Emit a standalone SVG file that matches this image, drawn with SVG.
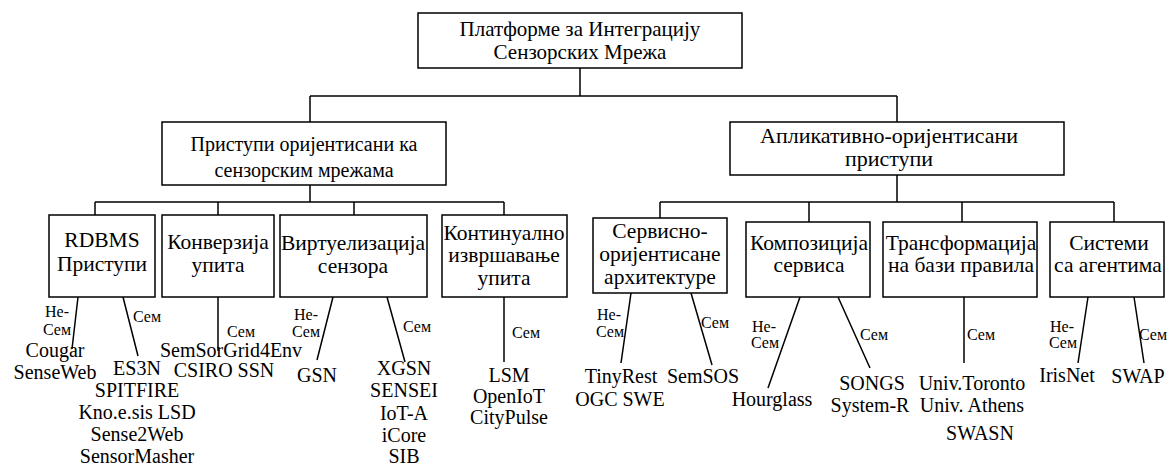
<svg xmlns="http://www.w3.org/2000/svg" width="1170" height="466" viewBox="0 0 1170 466">
  <style>
    .box { fill: #fff; stroke: #000; stroke-width: 1.5; }
    .wire { fill: none; stroke: #000; stroke-width: 1.5; }
    text { font-family: "Liberation Serif", "Times New Roman", "DejaVu Serif", serif; fill: #000; text-anchor: middle; }
    .t0 { font-size: 21px; }
    .t1 { font-size: 20px; }
    .t1b { font-size: 22px; }
    .t2 { font-size: 21.5px; }
    .leaf { font-size: 20px; }
    .lbl { font-size: 16px; text-anchor: start; }
  </style>
  <rect width="1170" height="466" fill="#fff"/>

  <!-- connectors -->
  <g id="connectors">
    <!-- root to second level -->
    <path class="wire" d="M580 68 V96 M310 96 H897 M310 96 V122 M897 96 V122"/>
    <!-- left branch to third level -->
    <path class="wire" d="M310 185 V202 M95 202 H504 M95 202 V215 M218 202 V215 M354 202 V215 M504 202 V215"/>
    <!-- right branch to third level -->
    <path class="wire" d="M897 175 V202 M660 202 H1114 M660 202 V218 M809 202 V222 M962 202 V222 M1114 202 V222"/>
    <!-- leaf lines -->
    <path class="wire" d="M78 297 L72 349 M123 297 L138 356"/>
    <path class="wire" d="M218 297 V351"/>
    <path class="wire" d="M333 297 L317 360 M387 297 L405 362"/>
    <path class="wire" d="M504 297 V362"/>
    <path class="wire" d="M631 293 L621 363 M691 293 L712 365"/>
    <path class="wire" d="M800 297 L768 388 M838 297 L870 368"/>
    <path class="wire" d="M964 297 V363"/>
    <path class="wire" d="M1088 297 L1078 363 M1134 297 L1144 363"/>
    <!-- branch labels -->
    <text class="lbl" x="45" y="317">Не-</text>
    <text class="lbl" x="43" y="335">Сем</text>
    <text class="lbl" x="133" y="322">Сем</text>
    <text class="lbl" x="227" y="337">Сем</text>
    <text class="lbl" x="294" y="320">Не-</text>
    <text class="lbl" x="292" y="337">Сем</text>
    <text class="lbl" x="403" y="332">Сем</text>
    <text class="lbl" x="512" y="338">Сем</text>
    <text class="lbl" x="597" y="320">Не-</text>
    <text class="lbl" x="596" y="337">Сем</text>
    <text class="lbl" x="701" y="328">Сем</text>
    <text class="lbl" x="752" y="332">Не-</text>
    <text class="lbl" x="751" y="348">Сем</text>
    <text class="lbl" x="860" y="340">Сем</text>
    <text class="lbl" x="967" y="340">Сем</text>
    <text class="lbl" x="1050" y="332">Не-</text>
    <text class="lbl" x="1049" y="348">Сем</text>
    <text class="lbl" x="1139" y="340">Сем</text>
  </g>

  <!-- root -->
  <g id="root">
    <rect class="box" x="418" y="13" width="324" height="55"/>
    <text class="t0" x="580" y="36">Платформе за Интеграцију</text>
    <text class="t0" x="580" y="59">Сензорских Мрежа</text>
  </g>

  <!-- second level -->
  <g id="sensor-approaches">
    <rect class="box" x="162" y="122" width="284" height="63"/>
    <text class="t1" x="304" y="151">Приступи оријентисани ка</text>
    <text class="t1" x="304" y="177">сензорским мрежама</text>
  </g>
  <g id="app-approaches">
    <rect class="box" x="730" y="122" width="334" height="53"/>
    <text class="t1b" x="889" y="143">Апликативно-оријентисани</text>
    <text class="t1b" x="889" y="166">приступи</text>
  </g>

  <!-- third level, sensor side -->
  <g id="rdbms">
    <rect class="box" x="49" y="215" width="106" height="82"/>
    <text class="t2" x="102" y="247">RDBMS</text>
    <text class="t2" x="102" y="271">Приступи</text>
  </g>
  <g id="query-conversion">
    <rect class="box" x="162" y="215" width="112" height="82"/>
    <text class="t2" x="218" y="249">Конверзија</text>
    <text class="t2" x="218" y="272">упита</text>
  </g>
  <g id="virtualization">
    <rect class="box" x="280" y="215" width="147" height="82"/>
    <text class="t2" x="353" y="250">Виртуелизација</text>
    <text class="t2" x="353" y="273">сензора</text>
  </g>
  <g id="continuous-query">
    <rect class="box" x="442" y="215" width="125" height="82"/>
    <text class="t2" x="504" y="240">Континуално</text>
    <text class="t2" x="504" y="262">извршавање</text>
    <text class="t2" x="504" y="285">упита</text>
  </g>

  <!-- third level, application side -->
  <g id="soa">
    <rect class="box" x="593" y="218" width="134" height="75"/>
    <text class="t2" x="660" y="238">Сервисно-</text>
    <text class="t2" x="660" y="261">оријентисане</text>
    <text class="t2" x="660" y="284">архитектуре</text>
  </g>
  <g id="service-composition">
    <rect class="box" x="746" y="222" width="124" height="75"/>
    <text class="t2" x="809" y="250">Композиција</text>
    <text class="t2" x="809" y="272">сервиса</text>
  </g>
  <g id="rule-transformation">
    <rect class="box" x="883" y="222" width="154" height="75"/>
    <text class="t2" x="961" y="250">Трансформација</text>
    <text class="t2" x="961" y="272">на бази правила</text>
  </g>
  <g id="agent-systems">
    <rect class="box" x="1050" y="222" width="114" height="75"/>
    <text class="t2" x="1109" y="250">Системи</text>
    <text class="t2" x="1108" y="272">са агентима</text>
  </g>

  <!-- leaves -->
  <g id="rdbms-nonsem">
    <text class="leaf" x="55" y="357">Cougar</text>
    <text class="leaf" x="55" y="379">SenseWeb</text>
  </g>
  <g id="rdbms-sem">
    <text class="leaf" x="137" y="375">ES3N</text>
    <text class="leaf" x="137" y="397">SPITFIRE</text>
    <text class="leaf" x="137" y="419">Kno.e.sis LSD</text>
    <text class="leaf" x="137" y="441">Sense2Web</text>
    <text class="leaf" x="137" y="463">SensorMasher</text>
  </g>
  <g id="conversion-sem">
    <text class="leaf" x="231" y="357">SemSorGrid4Env</text>
    <text class="leaf" x="224" y="377">CSIRO SSN</text>
  </g>
  <g id="virt-nonsem">
    <text class="leaf" x="317" y="382">GSN</text>
  </g>
  <g id="virt-sem">
    <text class="leaf" x="404" y="375">XGSN</text>
    <text class="leaf" x="404" y="397">SENSEI</text>
    <text class="leaf" x="404" y="420">IoT-A</text>
    <text class="leaf" x="404" y="442">iCore</text>
    <text class="leaf" x="404" y="463">SIB</text>
  </g>
  <g id="continuous-sem">
    <text class="leaf" x="509" y="382">LSM</text>
    <text class="leaf" x="509" y="403">OpenIoT</text>
    <text class="leaf" x="509" y="424">CityPulse</text>
  </g>
  <g id="soa-nonsem">
    <text class="leaf" x="621" y="383">TinyRest</text>
    <text class="leaf" x="620" y="406">OGC SWE</text>
  </g>
  <g id="soa-sem">
    <text class="leaf" x="703" y="383">SemSOS</text>
  </g>
  <g id="composition-nonsem">
    <text class="leaf" x="772" y="406">Hourglass</text>
  </g>
  <g id="composition-sem">
    <text class="leaf" x="872" y="390">SONGS</text>
    <text class="leaf" x="870" y="412">System-R</text>
  </g>
  <g id="rules-sem">
    <text class="leaf" x="972" y="390">Univ.Toronto</text>
    <text class="leaf" x="972" y="412">Univ. Athens</text>
    <text class="leaf" x="980" y="440">SWASN</text>
  </g>
  <g id="agents-nonsem">
    <text class="leaf" x="1067" y="382">IrisNet</text>
  </g>
  <g id="agents-sem">
    <text class="leaf" x="1138" y="383">SWAP</text>
  </g>
</svg>
